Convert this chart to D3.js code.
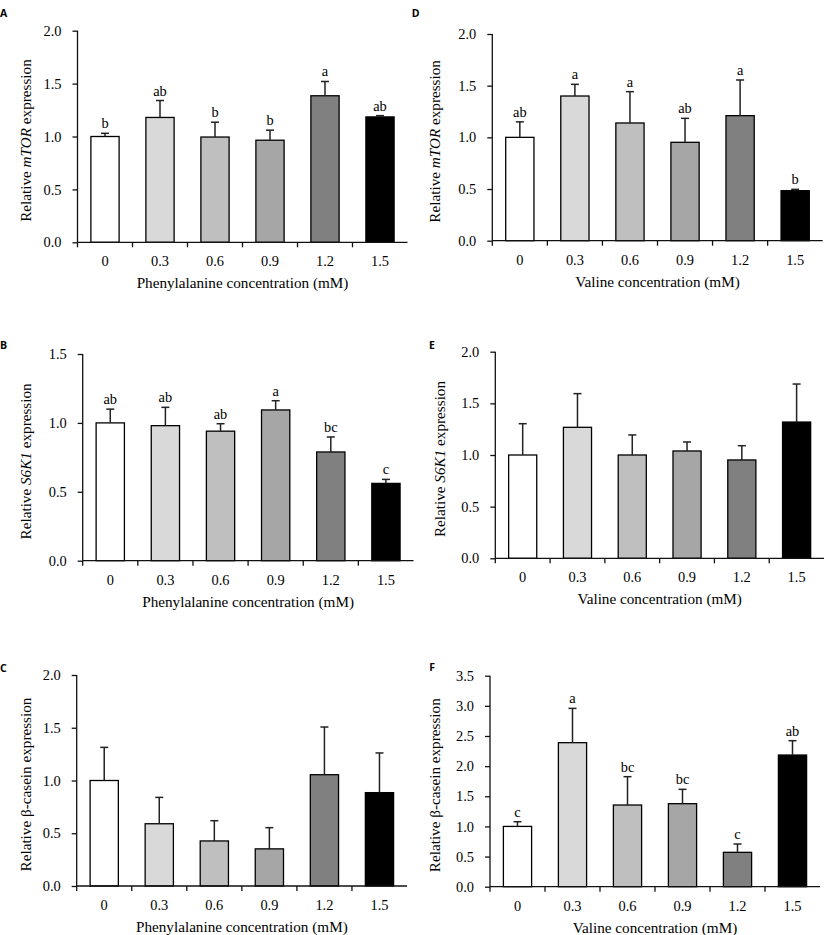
<!DOCTYPE html>
<html>
<head>
<meta charset="utf-8">
<script src="https://cdn.jsdelivr.net/npm/d3@7"></script>
<style>
  html, body { margin: 0; padding: 0; background: #fff; }
  svg { display: block; }
</style>
</head>
<body>
<svg id="chart" width="827" height="935"></svg>
<script>
// ---------- DATA ----------
const categories = ["0", "0.3", "0.6", "0.9", "1.2", "1.5"];
const barColors = ["#ffffff", "#d9d9d9", "#bfbfbf", "#a6a6a6", "#808080", "#000000"];

const pheTitle = "Phenylalanine concentration (mM)";
const valTitle = "Valine concentration (mM)";

// A: mTOR, phenylalanine
const mtorPheMean = [1.00, 1.18, 0.995, 0.965, 1.385, 1.185];
const mtorPheErr  = [1.03, 1.34, 1.135, 1.06, 1.52, 1.197];
const mtorPheSig  = ["b", "ab", "b", "b", "a", "ab"];

// B: S6K1, phenylalanine
const s6kPheMean = [1.00, 0.98, 0.94, 1.094, 0.789, 0.561];
const s6kPheErr  = [1.10, 1.113, 0.994, 1.161, 0.898, 0.59];
const s6kPheSig  = ["ab", "ab", "ab", "a", "bc", "c"];

// C: beta-casein, phenylalanine
const casPheMean = [1.00, 0.59, 0.427, 0.352, 1.055, 0.885];
const casPheErr  = [1.314, 0.84, 0.619, 0.553, 1.507, 1.261];
const casPheSig  = ["", "", "", "", "", ""];

// D: mTOR, valine
const mtorValMean = [1.00, 1.40, 1.139, 0.952, 1.21, 0.484];
const mtorValErr  = [1.15, 1.513, 1.442, 1.184, 1.555, 0.497];
const mtorValSig  = ["ab", "a", "a", "ab", "a", "b"];

// E: S6K1, valine
const s6kValMean = [1.00, 1.268, 1.00, 1.039, 0.952, 1.319];
const s6kValErr  = [1.303, 1.594, 1.194, 1.126, 1.09, 1.687];
const s6kValSig  = ["", "", "", "", "", ""];

// F: beta-casein, valine
const casValMean = [1.00, 2.389, 1.355, 1.377, 0.57, 2.184];
const casValErr  = [1.078, 2.958, 1.825, 1.615, 0.708, 2.422];
const casValSig  = ["c", "a", "bc", "bc", "c", "ab"];

const yTicks2 = ["0.0", "0.5", "1.0", "1.5", "2.0"];
const yTicks15 = ["0.0", "0.5", "1.0", "1.5"];
const yTicks35 = ["0.0", "0.5", "1.0", "1.5", "2.0", "2.5", "3.0", "3.5"];

// ---------- LAYOUT ----------
const panels = [
  { letter: "A", lx: 0, ly: 16.7, x0: 77.5, x1: 407.5, yTop: 30.7, yBot: 242.3, ymax: 2.0, ticks: yTicks2,
    gene: "mTOR", gtype: "i", xTitle: pheTitle, ytx: -47, mean: mtorPheMean, err: mtorPheErr, sig: mtorPheSig },
  { letter: "B", lx: 0, ly: 349, x0: 82.7, x1: 413.5, yTop: 354, yBot: 560.7, ymax: 1.5, ticks: yTicks15,
    gene: "S6K1", gtype: "i", xTitle: pheTitle, ytx: -52, mean: s6kPheMean, err: s6kPheErr, sig: s6kPheSig },
  { letter: "C", lx: 0, ly: 671.7, x0: 76.7, x1: 407, yTop: 675, yBot: 886, ymax: 2.0, ticks: yTicks2,
    gene: "β-casein", gtype: "n", xTitle: pheTitle, ytx: -46, mean: casPheMean, err: casPheErr, sig: casPheSig },
  { letter: "D", lx: 411.7, ly: 16.7, x0: 492.3, x1: 822.7, yTop: 34, yBot: 240.7, ymax: 2.0, ticks: yTicks2,
    gene: "mTOR", gtype: "i", xTitle: valTitle, ytx: -52, mean: mtorValMean, err: mtorValErr, sig: mtorValSig },
  { letter: "E", lx: 429, ly: 349, x0: 495.3, x1: 824, yTop: 351.7, yBot: 558.3, ymax: 2.0, ticks: yTicks2,
    gene: "S6K1", gtype: "i", xTitle: valTitle, ytx: -50, mean: s6kValMean, err: s6kValErr, sig: s6kValSig },
  { letter: "F", lx: 429.3, ly: 670.7, x0: 490, x1: 820, yTop: 675.7, yBot: 886.7, ymax: 3.5, ticks: yTicks35,
    gene: "β-casein", gtype: "n", xTitle: valTitle, ytx: -50.5, mean: casValMean, err: casValErr, sig: casValSig }
];

const svg = d3.select("#chart");
const serif = "Liberation Serif, Times New Roman, serif";
const axisColor = "#111";
const tickFont = 14.4;
const titleFont = 15.2;
const pIn = 0.487, pOut = pIn / 2;

panels.forEach(p => {
  const g = svg.append("g");
  const x = d3.scaleBand().domain(categories).range([p.x0, p.x1])
    .paddingInner(pIn).paddingOuter(pOut);
  const y = d3.scaleLinear().domain([0, p.ymax]).range([p.yBot, p.yTop]);
  const step = x.step();
  const cx = d => x(d) + x.bandwidth() / 2;

  // panel letter
  g.append("text").attr("x", p.lx).attr("y", p.ly)
    .style("font-family", "Open Sans, DejaVu Sans, sans-serif")
    .attr("font-weight", "bold").attr("font-size", 10.5).text(p.letter);

  // bars
  g.selectAll("rect.bar").data(categories).join("rect")
    .attr("class", "bar")
    .attr("x", d => x(d))
    .attr("width", x.bandwidth())
    .attr("y", (d, i) => y(p.mean[i]))
    .attr("height", (d, i) => y(0) - y(p.mean[i]))
    .attr("fill", (d, i) => barColors[i])
    .attr("stroke", "#000").attr("stroke-width", 1.3);

  // error bars
  const cap = 4;
  const eg = g.selectAll("g.err").data(categories).join("g").attr("class", "err");
  eg.append("line")
    .attr("x1", cx).attr("x2", cx)
    .attr("y1", (d, i) => y(p.mean[i])).attr("y2", (d, i) => y(p.err[i]))
    .attr("stroke", "#222").attr("stroke-width", 1.5);
  eg.append("line")
    .attr("x1", d => cx(d) - cap).attr("x2", d => cx(d) + cap)
    .attr("y1", (d, i) => y(p.err[i])).attr("y2", (d, i) => y(p.err[i]))
    .attr("stroke", "#222").attr("stroke-width", 1.5);

  // significance letters
  g.selectAll("text.sig").data(categories).join("text")
    .attr("class", "sig")
    .attr("x", cx)
    .attr("y", (d, i) => y(p.err[i]) - 5)
    .attr("text-anchor", "middle")
    .style("font-family", serif).attr("font-size", tickFont)
    .text((d, i) => p.sig[i]);

  // y axis
  const yAxis = d3.axisLeft(y)
    .tickValues(p.ticks.map(Number))
    .tickFormat((d, i) => p.ticks[i])
    .tickSize(5).tickPadding(11);
  const ya = g.append("g").attr("transform", `translate(${p.x0},0)`).call(yAxis);
  ya.select(".domain").attr("d", `M0,${p.yTop}V${p.yBot}`).attr("stroke", axisColor).attr("stroke-width", 1.3);
  ya.selectAll(".tick line").attr("stroke", axisColor).attr("stroke-width", 1.3);
  ya.selectAll(".tick text").style("font-family", serif).attr("font-size", tickFont).attr("fill", "#000");

  // x axis baseline
  g.append("line").attr("x1", p.x0).attr("x2", p.x1).attr("y1", p.yBot).attr("y2", p.yBot)
    .attr("stroke", axisColor).attr("stroke-width", 1.3);
  // x ticks at category boundaries
  g.selectAll("line.xt").data(categories).join("line").attr("class", "xt")
    .attr("x1", d => x(d) - step * pOut)
    .attr("x2", d => x(d) - step * pOut)
    .attr("y1", p.yBot).attr("y2", p.yBot + 5)
    .attr("stroke", axisColor).attr("stroke-width", 1.3);
  // x tick labels
  g.selectAll("text.xl").data(categories).join("text").attr("class", "xl")
    .attr("x", cx)
    .attr("y", p.yBot + 24)
    .attr("text-anchor", "middle")
    .style("font-family", serif).attr("font-size", tickFont)
    .text(d => d);

  // x title
  g.append("text")
    .attr("x", (p.x0 + p.x1) / 2).attr("y", p.yBot + 46)
    .attr("text-anchor", "middle")
    .style("font-family", serif).attr("font-size", titleFont)
    .text(p.xTitle);

  // y title
  const yt = g.append("text")
    .attr("transform", `translate(${p.x0 + p.ytx},${(p.yTop + p.yBot) / 2 + 4}) rotate(-90)`)
    .attr("text-anchor", "middle")
    .style("font-family", serif).attr("font-size", titleFont);
  yt.append("tspan").text("Relative ");
  yt.append("tspan").attr("font-style", p.gtype === "i" ? "italic" : "normal").text(p.gene);
  yt.append("tspan").text(" expression");
});
</script>
</body>
</html>
